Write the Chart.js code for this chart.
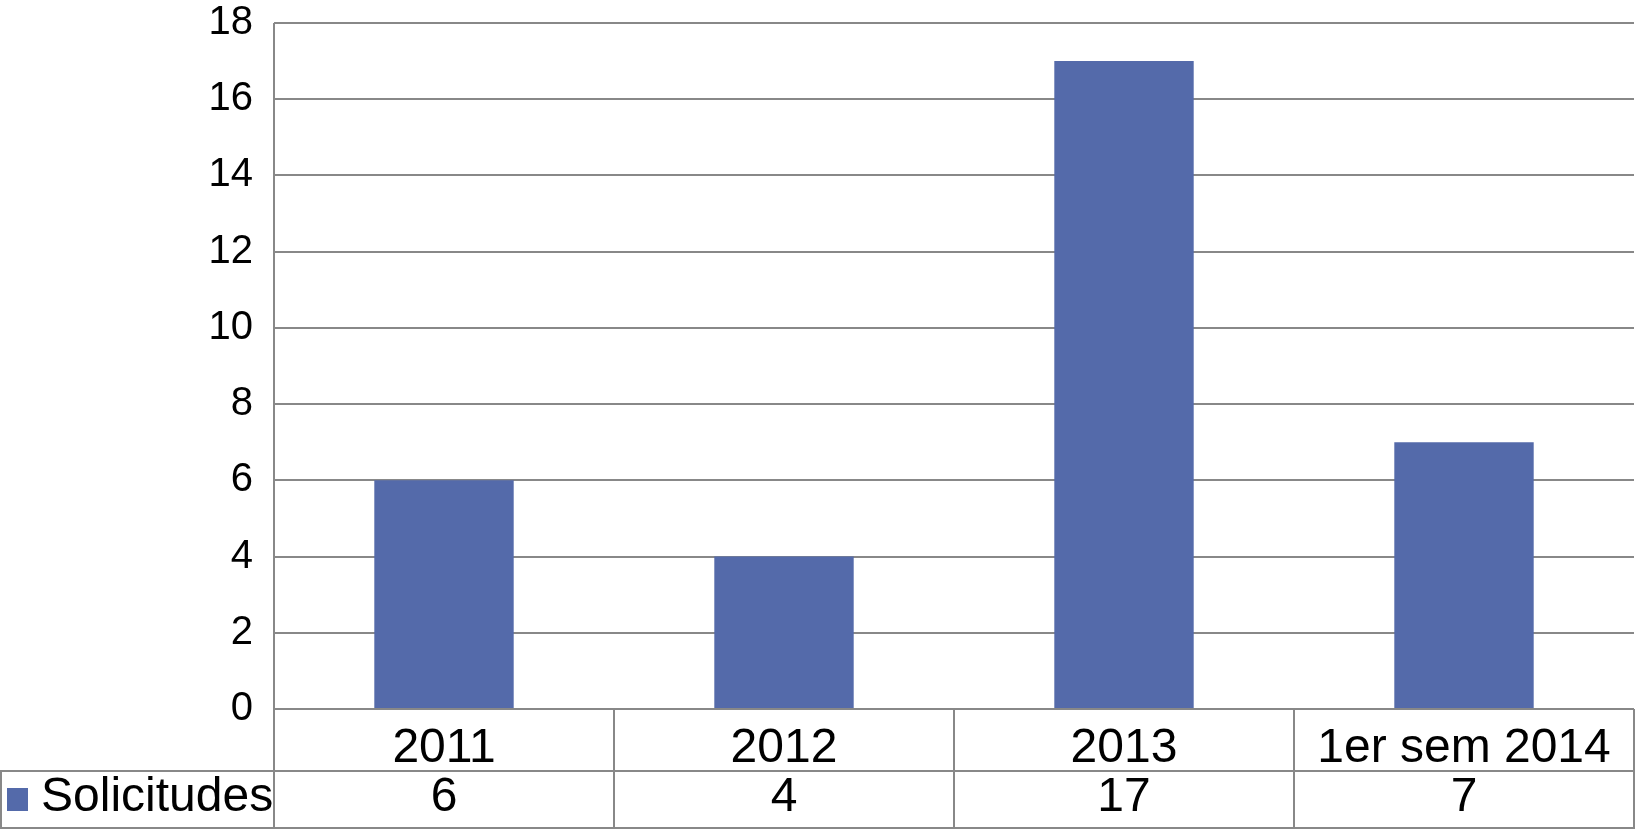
<!DOCTYPE html>
<html>
<head>
<meta charset="utf-8">
<script src="https://cdn.jsdelivr.net/npm/chart.js@4"></script>
<style>
  html, body { margin: 0; padding: 0; background: #fff; }
  #wrap { width: 1648px; height: 831px; }
</style>
</head>
<body>
<div id="wrap"><canvas id="solicitudes" width="1648" height="831"></canvas></div>
<script>
const categories = ["2011", "2012", "2013", "1er sem 2014"];
const solicitudes = [6, 4, 17, 7];
const yTicks = [0, 2, 4, 6, 8, 10, 12, 14, 16, 18];
const seriesName = "Solicitudes";

const FONT = "'Liberation Sans', Arial, Helvetica, sans-serif";
const GRID = "#888888";
const BAR = "#546aaa";

// data table under the plot (legend key + values row)
const dataTable = {
  id: "dataTable",
  afterDraw(chart) {
    const { ctx, chartArea, scales } = chart;
    const x = scales.x;
    const top = chartArea.bottom;
    const rowSep = top + 62;
    const bottom = rowSep + 58;
    const step = x.getPixelForValue(1) - x.getPixelForValue(0);
    const edges = categories.map((c, i) => x.getPixelForValue(i) - step / 2);
    edges.push(chartArea.right);

    ctx.save();
    ctx.strokeStyle = GRID;
    ctx.lineWidth = 2;
    ctx.beginPath();
    // vertical borders
    edges.forEach((e) => {
      ctx.moveTo(e, top);
      ctx.lineTo(e, bottom);
    });
    ctx.moveTo(chartArea.left, chartArea.top);
    ctx.lineTo(chartArea.left, bottom);
    ctx.moveTo(1, rowSep);
    ctx.lineTo(1, bottom);
    // horizontal borders
    ctx.moveTo(0, rowSep);
    ctx.lineTo(chartArea.right, rowSep);
    ctx.moveTo(0, bottom - 1);
    ctx.lineTo(chartArea.right, bottom - 1);
    ctx.stroke();

    // legend key
    ctx.fillStyle = BAR;
    ctx.fillRect(7, rowSep + 17, 21, 23);
    ctx.fillStyle = "#000";
    ctx.font = "48px " + FONT;
    ctx.textBaseline = "alphabetic";
    ctx.textAlign = "left";
    ctx.fillText(seriesName, 41, rowSep + 40);

    // values row
    ctx.textAlign = "center";
    solicitudes.forEach((v, i) => {
      ctx.fillText(String(v), x.getPixelForValue(i), rowSep + 40);
    });
    ctx.restore();
  },
};

new Chart(document.getElementById("solicitudes"), {
  type: "bar",
  data: {
    labels: categories,
    datasets: [
      {
        label: seriesName,
        data: solicitudes,
        backgroundColor: BAR,
        barPercentage: 0.41,
        categoryPercentage: 1,
      },
    ],
  },
  options: {
    responsive: false,
    animation: false,
    devicePixelRatio: 1,
    layout: { padding: { top: 23, right: 14, bottom: 60, left: 0 } },
    plugins: { legend: { display: false }, tooltip: { enabled: false } },
    scales: {
      x: {
        grid: { display: false },
        border: { display: false },
        ticks: {
          color: "#000",
          font: { family: FONT, size: 48 },
          padding: 3,
          maxRotation: 0,
          autoSkip: false,
        },
        afterFit: (s) => { s.height = 62; },
      },
      y: {
        min: 0,
        max: 18,
        afterBuildTicks: (s) => { s.ticks = yTicks.map((v) => ({ value: v })); },
        grid: { color: GRID, lineWidth: 2, drawTicks: true, tickLength: 21, tickColor: "rgba(0,0,0,0)" },
        border: { display: false },
        ticks: {
          color: "#000",
          font: { family: FONT, size: 40, lineHeight: 1 },
          padding: 0,
        },
        afterFit: (s) => { s.width = 274; },
      },
    },
  },
  plugins: [dataTable],
});
</script>
</body>
</html>
